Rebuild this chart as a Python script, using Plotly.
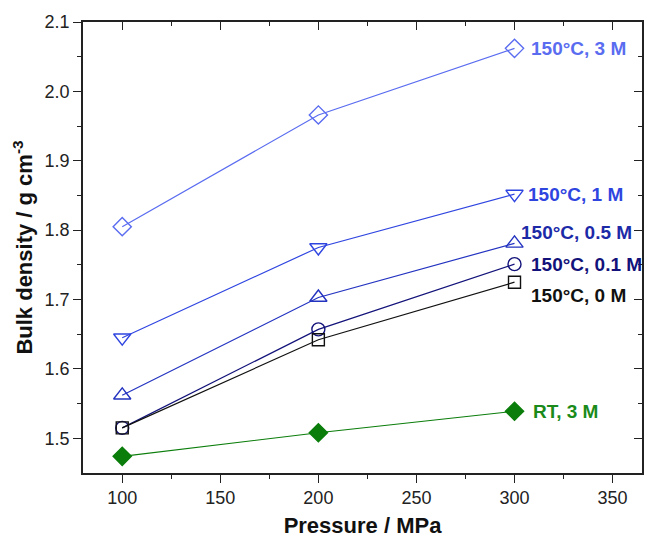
import plotly.graph_objects as go

pressure = [100, 200, 300]
names = ["150°C, 3 M", "150°C, 1 M", "150°C, 0.5 M", "150°C, 0.1 M", "150°C, 0 M", "RT, 3 M"]
d_150_3M = [1.805, 1.966, 2.062]
d_150_1M = [1.645, 1.775, 1.852]
d_150_05M = [1.562, 1.703, 1.781]
d_150_01M = [1.515, 1.657, 1.751]
d_150_0M = [1.515, 1.642, 1.725]
d_RT_3M = [1.474, 1.508, 1.539]

series = [d_150_3M, d_150_1M, d_150_05M, d_150_01M, d_150_0M, d_RT_3M]
colors = ["#5a6cf0", "#2f45e0", "#2333c0", "#12127a", "#111111", "#0a7d0a"]
label_colors = ["#5a6cf0", "#2f45e0", "#1c2aa8", "#12127a", "#111111", "#1a8a1a"]
symbols = ["diamond-open", "triangle-down-open", "triangle-up-open", "circle-open", "square-open", "diamond"]
sizes = [14, 15, 15, 13, 12, 14]
label_dy = [0, 0, 0.015, 0.0, -0.019, 0]
label_dx = [14, 11, 4, 14, 14, 16]

fig = go.Figure()
for vals, c, s, sz in zip(series, colors, symbols, sizes):
    fig.add_trace(go.Scatter(
        x=pressure, y=vals, mode="lines+markers",
        line=dict(color=c, width=1.2),
        marker=dict(symbol=s, size=sz, color=c, line=dict(color=c, width=1.4)),
        showlegend=False, hoverinfo="skip"))

for name, vals, c, dy, dx in zip(names, series, label_colors, label_dy, label_dx):
    fig.add_annotation(x=pressure[-1], y=vals[-1] + dy, text="<b>" + name + "</b>",
                       showarrow=False, xanchor="left", yanchor="middle", xshift=dx,
                       font=dict(family="Liberation Sans, Arial", size=19, color=c))

# invisible trace to activate the mirror axes
fig.add_trace(go.Scatter(x=[pressure[0]], y=[d_150_3M[0]], xaxis="x2", yaxis="y2",
                         mode="markers", marker=dict(opacity=0), showlegend=False, hoverinfo="skip"))

axis_font = dict(family="Liberation Sans, Arial", size=18, color="#222")
title_font = dict(family="Liberation Sans, Arial", size=22, color="#111")
fig.update_layout(
    width=645, height=540,
    margin=dict(l=83, r=3, t=22, b=67),
    plot_bgcolor="white", paper_bgcolor="white",
    xaxis=dict(range=[80, 365], tickvals=[100, 150, 200, 250, 300, 350],
               ticks="outside", ticklen=8, tickwidth=1.2, tickcolor="#222",
               minor=dict(tickvals=[125, 175, 225, 275, 325], ticks="outside", ticklen=4, tickcolor="#222", tickwidth=1.2),
               showline=True, linecolor="#222", linewidth=1.5, showgrid=False, zeroline=False,
               tickfont=axis_font,
               title=dict(text="<b>Pressure / MPa</b>", font=title_font, standoff=10)),
    yaxis=dict(range=[1.45, 2.1], tickvals=[1.5, 1.6, 1.7, 1.8, 1.9, 2.0, 2.1], tickformat=".1f",
               ticks="outside", ticklen=8, tickwidth=1.2, tickcolor="#222",
               minor=dict(tickvals=[1.55, 1.65, 1.75, 1.85, 1.95, 2.05], ticks="outside", ticklen=4, tickcolor="#222", tickwidth=1.2),
               showline=True, linecolor="#222", linewidth=1.5, showgrid=False, zeroline=False,
               tickfont=axis_font,
               title=dict(text="<b>Bulk density / g cm<sup>-3</sup></b>", font=title_font, standoff=6)),
    xaxis2=dict(overlaying="x", side="top", matches="x", range=[80, 365],
                tickvals=[100, 150, 200, 250, 300, 350], ticks="inside", ticklen=8, tickwidth=1.2, tickcolor="#222",
                minor=dict(tickvals=[125, 175, 225, 275, 325], ticks="inside", ticklen=4, tickcolor="#222", tickwidth=1.2),
                showticklabels=False, showline=True, linecolor="#222", linewidth=1.5, showgrid=False, zeroline=False),
    yaxis2=dict(overlaying="y", side="right", matches="y", range=[1.45, 2.1],
                tickvals=[1.5, 1.6, 1.7, 1.8, 1.9, 2.0, 2.1], ticks="inside", ticklen=8, tickwidth=1.2, tickcolor="#222",
                minor=dict(tickvals=[1.55, 1.65, 1.75, 1.85, 1.95, 2.05], ticks="inside", ticklen=4, tickcolor="#222", tickwidth=1.2),
                showticklabels=False, showline=True, linecolor="#222", linewidth=1.5, showgrid=False, zeroline=False),
)

fig.write_html("out.html")
